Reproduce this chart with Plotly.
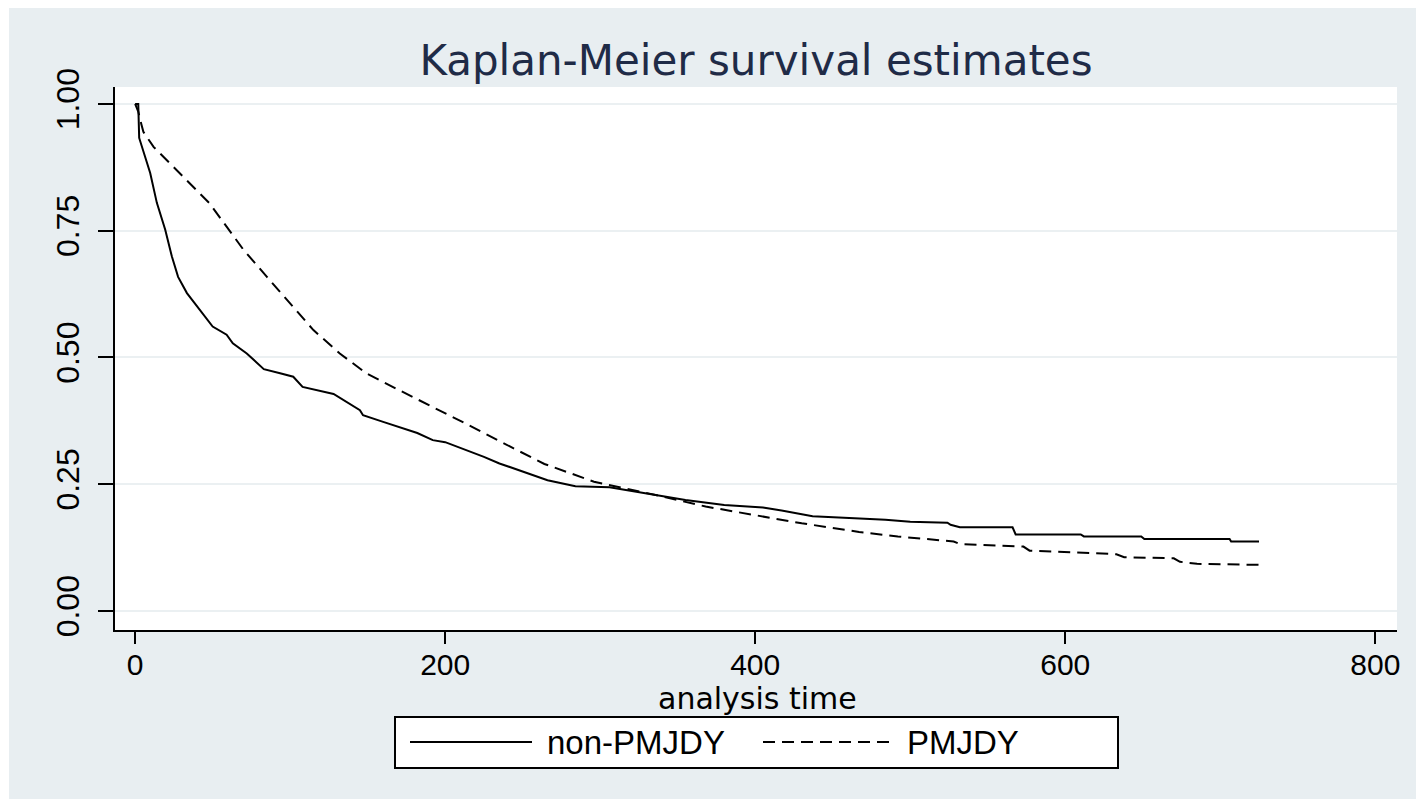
import plotly.graph_objects as go

# ---------------- data ----------------
time_non = [0, 2, 2.6, 4.3, 9.7, 14, 19.4, 23.7, 27.7, 33.4, 42, 50, 59, 63, 72, 83, 93.5,
            102, 108, 128, 145, 147, 160, 170, 182, 192, 200, 225, 235, 266, 284, 306,
            331, 355, 380, 405, 417, 437, 464, 484, 500, 524, 526, 532, 566, 568, 610,
            612, 649, 651, 706, 707, 725]
surv_non = [1.0, 1.0, 0.933, 0.916, 0.864, 0.805, 0.752, 0.699, 0.659, 0.627, 0.594,
            0.561, 0.545, 0.528, 0.508, 0.477, 0.469, 0.462, 0.442, 0.428, 0.396, 0.386,
            0.373, 0.363, 0.351, 0.337, 0.333, 0.304, 0.291, 0.258, 0.246, 0.244, 0.232,
            0.219, 0.209, 0.204, 0.198, 0.187, 0.183, 0.180, 0.176, 0.174, 0.170, 0.165,
            0.165, 0.151, 0.151, 0.147, 0.147, 0.142, 0.142, 0.137, 0.137]

time_pm = [0, 2, 4, 5.3, 12, 20, 33, 48, 59, 70, 85, 100, 115, 132, 149, 170, 192, 213,
           235, 264, 296, 331, 368, 392, 430, 467, 492, 528, 532, 573, 577, 633, 638,
           670, 674, 685, 725]
surv_pm = [1.0, 0.985, 0.96, 0.945, 0.915, 0.89, 0.85, 0.804, 0.758, 0.712, 0.659, 0.607,
           0.554, 0.508, 0.469, 0.436, 0.403, 0.370, 0.335, 0.290, 0.255, 0.232, 0.206,
           0.193, 0.173, 0.156, 0.147, 0.137, 0.132, 0.127, 0.119, 0.112, 0.106, 0.104,
           0.097, 0.093, 0.091]

y_ticks = [0.0, 0.25, 0.5, 0.75, 1.0]
y_labels = ["0.00", "0.25", "0.50", "0.75", "1.00"]
x_ticks = [0, 200, 400, 600, 800]
x_labels = ["0", "200", "400", "600", "800"]

series_names = ["non-PMJDY", "PMJDY"]
title_text = "Kaplan-Meier survival estimates"
x_title = "analysis time"

# ---------------- layout constants ----------------
W, H = 1416, 799
ML, MR, MT, MB = 115, 19, 87, 169
PW, PH = W - ML - MR, H - MT - MB
BG = "#E8EEF1"
FONT = "Liberation Sans, Arial, sans-serif"
WIDE = "DejaVu Sans, Verdana, sans-serif"


def px_x(p):
    return (p - ML) / PW


def px_y(p):
    return (H - MB - p) / PH


fig = go.Figure()
fig.add_trace(go.Scatter(x=time_non, y=surv_non, mode="lines",
                         name=series_names[0], showlegend=False,
                         line=dict(color="black", width=2)))
fig.add_trace(go.Scatter(x=time_pm, y=surv_pm, mode="lines",
                         name=series_names[1], showlegend=False,
                         line=dict(color="black", width=2, dash="12px,7px")))

shapes = []
# thin white frame at top / left of the bluish-grey graph region
shapes.append(dict(type="rect", xref="paper", yref="paper", layer="below",
                   x0=px_x(-5), x1=px_x(W + 5), y0=px_y(8), y1=px_y(-5),
                   fillcolor="white", line=dict(width=0)))
shapes.append(dict(type="rect", xref="paper", yref="paper", layer="below",
                   x0=px_x(-5), x1=px_x(9), y0=px_y(H + 5), y1=px_y(-5),
                   fillcolor="white", line=dict(width=0)))
# legend box
lx0, lx1, ly0, ly1 = px_x(395), px_x(1118), px_y(768), px_y(717)
shapes.append(dict(type="rect", xref="paper", yref="paper", x0=lx0, x1=lx1, y0=ly0, y1=ly1,
                   fillcolor="white", line=dict(color="black", width=2)))
ym = px_y(742)
shapes.append(dict(type="line", xref="paper", yref="paper", x0=px_x(410), x1=px_x(532),
                   y0=ym, y1=ym, line=dict(color="black", width=2)))
shapes.append(dict(type="line", xref="paper", yref="paper", x0=px_x(763), x1=px_x(890),
                   y0=ym, y1=ym, line=dict(color="black", width=2, dash="12px,7px")))

annotations = [
    dict(text=series_names[0], xref="paper", yref="paper", x=px_x(545), y=ym,
         xanchor="left", yanchor="middle", showarrow=False,
         font=dict(family=FONT, size=33, color="black")),
    dict(text=series_names[1], xref="paper", yref="paper", x=px_x(905), y=ym,
         xanchor="left", yanchor="middle", showarrow=False,
         font=dict(family=FONT, size=33, color="black")),
    dict(text=x_title, xref="paper", yref="paper", x=px_x(757), y=px_y(698),
         xanchor="center", yanchor="middle", showarrow=False, borderpad=0,
         font=dict(family=WIDE, size=30, color="black")),
]

fig.update_layout(
    width=W, height=H,
    margin=dict(l=ML, r=MR, t=MT, b=MB, pad=0),
    paper_bgcolor=BG, plot_bgcolor="white",
    title=dict(text=title_text, x=0.5, xref="paper", xanchor="center",
               y=1 - 60 / H, yref="container", yanchor="middle",
               font=dict(family=WIDE, size=42, color="#1F2B47")),
    shapes=shapes, annotations=annotations,
    showlegend=False,
)
fig.update_xaxes(range=[-13, 814], tickvals=x_ticks, ticktext=x_labels,
                 showgrid=False, zeroline=False, showline=True, linecolor="black",
                 linewidth=2, ticks="outside", ticklen=12, tickwidth=2, tickcolor="black",
                 ticklabelstandoff=-5,
                 tickfont=dict(family=FONT, size=30, color="black"))
fig.update_yaxes(range=[-0.0375, 1.0335], tickvals=y_ticks, ticktext=y_labels,
                 showgrid=True, gridcolor="#EBF0F2", gridwidth=2, zeroline=False,
                 showline=True, linecolor="black", linewidth=2, ticks="outside",
                 ticklen=15, tickwidth=2, tickcolor="black", tickangle=-90,
                 ticklabelstandoff=6,
                 tickfont=dict(family=FONT, size=32, color="black"))

fig.write_html("out.html")
